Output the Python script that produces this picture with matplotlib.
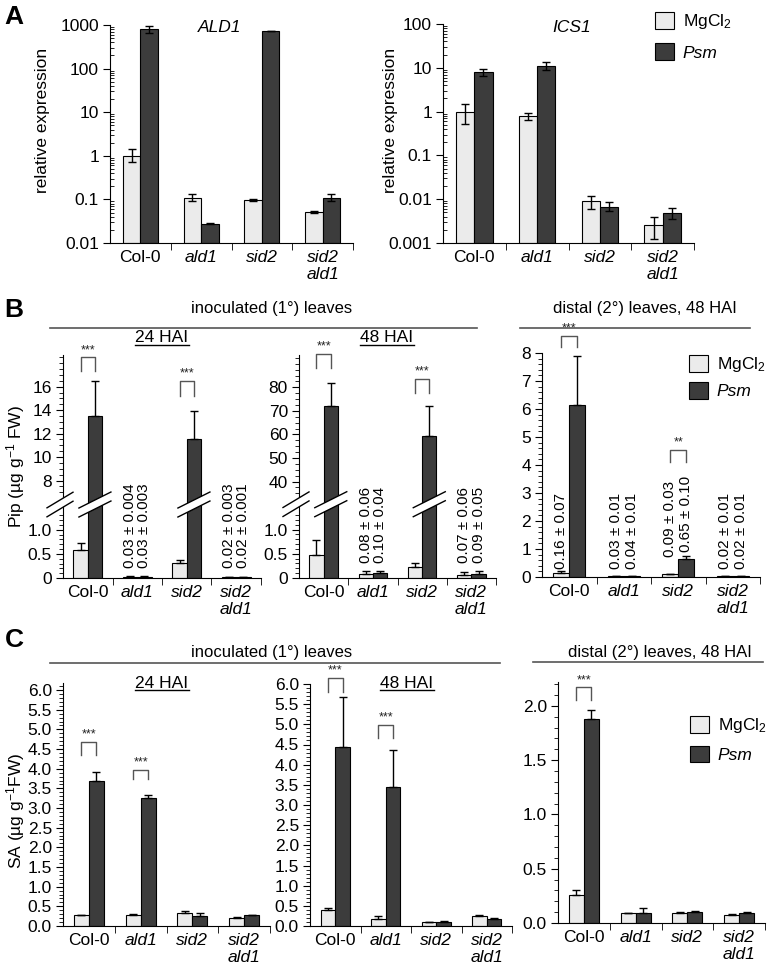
import numpy as np
import matplotlib
matplotlib.use('Agg')
import matplotlib.pyplot as plt
from matplotlib.patches import Patch, Polygon
from matplotlib.lines import Line2D
from matplotlib.ticker import FixedLocator, FixedFormatter, LogLocator, NullFormatter, FuncFormatter
from matplotlib.transforms import IdentityTransform

plt.rcParams['font.family'] = ['Liberation Sans', 'DejaVu Sans']
plt.rcParams['mathtext.fontset'] = 'custom'
plt.rcParams['mathtext.rm'] = 'Liberation Sans'
plt.rcParams['mathtext.it'] = 'Liberation Sans:italic'

W, H = 770, 964
LIGHT = '#ebebeb'
DARK = '#3c3c3c'
BW = 0.29  # bar width
FS = 12.5  # tick / label size

# ---- data ----
groups = ['Col-0', 'ald1', 'sid2', 'sid2\nald1']

# A: relative expression (mean, lower, upper)
ald1_mg = [1.0, 0.11, 0.095, 0.052]
ald1_mg_lo = [0.72, 0.09, 0.090, 0.050]
ald1_mg_hi = [1.40, 0.135, 0.100, 0.054]
ald1_psm = [800, 0.028, 720, 0.11]
ald1_psm_lo = [660, 0.027, 715, 0.09]
ald1_psm_hi = [960, 0.029, 725, 0.135]

ics1_mg = [1.0, 0.80, 0.0089, 0.0026]
ics1_mg_lo = [0.52, 0.65, 0.0060, 0.00125]
ics1_mg_hi = [1.48, 0.95, 0.0118, 0.0040]
ics1_psm = [8.0, 11.2, 0.0067, 0.0048]
ics1_psm_lo = [6.5, 9.0, 0.0053, 0.0035]
ics1_psm_hi = [9.5, 13.8, 0.0085, 0.0063]

# B: Pip (mean, SD)
pip24_mg = [0.58, 0.03, 0.32, 0.02]
pip24_mg_err = [0.15, 0.004, 0.06, 0.003]
pip24_psm = [13.5, 0.03, 11.5, 0.02]
pip24_psm_err = [3.0, 0.003, 2.4, 0.001]

pip48_mg = [0.47, 0.08, 0.22, 0.07]
pip48_mg_err = [0.32, 0.06, 0.08, 0.06]
pip48_psm = [72.0, 0.10, 59.5, 0.09]
pip48_psm_err = [10.0, 0.04, 12.5, 0.05]

pipd_mg = [0.16, 0.03, 0.09, 0.02]
pipd_mg_err = [0.07, 0.01, 0.03, 0.01]
pipd_psm = [6.15, 0.04, 0.65, 0.02]
pipd_psm_err = [1.75, 0.01, 0.10, 0.01]

# C: SA (mean, SD)
sa24_mg = [0.27, 0.28, 0.32, 0.21]
sa24_mg_err = [0.01, 0.02, 0.06, 0.02]
sa24_psm = [3.70, 3.25, 0.26, 0.27]
sa24_psm_err = [0.22, 0.08, 0.07, 0.02]

sa48_mg = [0.40, 0.18, 0.09, 0.26]
sa48_mg_err = [0.05, 0.06, 0.01, 0.01]
sa48_psm = [4.45, 3.45, 0.10, 0.18]
sa48_psm_err = [1.23, 0.92, 0.02, 0.02]

sad_mg = [0.26, 0.09, 0.095, 0.075]
sad_mg_err = [0.04, 0.005, 0.008, 0.005]
sad_psm = [1.88, 0.09, 0.10, 0.095]
sad_psm_err = [0.08, 0.05, 0.015, 0.005]

x = np.arange(len(groups))

fig = plt.figure(figsize=(W / 100, H / 100), dpi=100)


def add_ax(l, t, r, b):
    return fig.add_axes([l / W, 1 - b / H, (r - l) / W, (b - t) / H])


def style_ax(ax):
    for s in ('top', 'right'):
        ax.spines[s].set_visible(False)
    ax.set_xlim(-0.5, 3.5)
    ax.set_xticks(x)
    ax.set_xticklabels(groups, fontsize=FS)
    for i, lab in enumerate(ax.get_xticklabels()):
        if i > 0:
            lab.set_fontstyle('italic')
    ax.set_xticks(x + 0.5, minor=True)
    ax.tick_params(axis='x', which='major', length=0, pad=5)
    ax.tick_params(axis='x', which='minor', length=5, direction='out')
    ax.tick_params(axis='y', which='major', labelsize=FS, length=5, direction='out', pad=3)
    ax.tick_params(axis='y', which='minor', length=3, direction='out')


def draw_bars(ax, mg, psm, mg_err, psm_err, bottom=0):
    ax.bar(x - BW / 2, np.array(mg) - bottom, BW, bottom=bottom, color=LIGHT,
           edgecolor='black', linewidth=0.8, zorder=2)
    ax.bar(x + BW / 2, np.array(psm) - bottom, BW, bottom=bottom, color=DARK,
           edgecolor='black', linewidth=0.8, zorder=2)
    ax.errorbar(x - BW / 2, mg, yerr=mg_err, fmt='none', ecolor='black',
                elinewidth=1, capsize=3, capthick=1, zorder=3)
    ax.errorbar(x + BW / 2, psm, yerr=psm_err, fmt='none', ecolor='black',
                elinewidth=1, capsize=3, capthick=1, zorder=3)


def up_only(err):
    return [np.zeros(len(err)), np.array(err)]


def lo_hi(val, lo, hi):
    val = np.array(val)
    return [val - np.array(lo), np.array(hi) - val]


def bracket(ax, i, y0, y1, stars):
    xl, xr = x[i] - BW / 2, x[i] + BW / 2
    ax.plot([xl, xl, xr, xr], [y0, y1, y1, y0], color='#555555', lw=1,
            clip_on=False, zorder=4)
    ax.annotate(stars, ((xl + xr) / 2, y1), xytext=(0, 1), textcoords='offset points',
                ha='center', va='bottom', fontsize=9, color='#222222',
                annotation_clip=False)


def vlabel(ax, i, side, y, s):
    ax.text(x[i] + side * BW / 2, y, s, rotation=90, ha='center', va='bottom',
            fontsize=11, clip_on=False)


def broken_scale(a, b, s1, g, s2):
    def fwd(y):
        y = np.asarray(y, dtype=float)
        return np.where(y <= a, y * s1,
                        np.where(y <= b, a * s1 + (y - a) * g / (b - a),
                                 a * s1 + g + (y - b) * s2))

    def inv(p):
        p = np.asarray(p, dtype=float)
        p1 = a * s1
        p2 = p1 + g
        return np.where(p <= p1, p / s1,
                        np.where(p <= p2, a + (p - p1) * (b - a) / g,
                                 b + (p - p2) / s2))
    return fwd, inv


def break_mark(ax, xd, yd, hw, k=0.6, sep=4.5, dx=0):
    px, py = ax.transData.transform((xd, yd))
    px += dx
    lo = [(px - hw, py - sep - hw * k), (px + hw, py - sep + hw * k)]
    hi = [(px + hw, py + sep + hw * k), (px - hw, py + sep - hw * k)]
    fig.add_artist(Polygon(lo + hi, closed=True, facecolor='white', edgecolor='none',
                           transform=IdentityTransform(), zorder=10))
    for seg in (lo, hi):
        fig.add_artist(Line2D([seg[0][0], seg[1][0]], [seg[0][1], seg[1][1]],
                              color='black', lw=1, transform=IdentityTransform(), zorder=11))


def ftext(px, py, s, **kw):
    return fig.text(px / W, 1 - py / H, s, **kw)


def hline(x0, x1, py, color='#555555', lw=1.2):
    fig.add_artist(Line2D([x0 / W, x1 / W], [1 - py / H] * 2, color=color, lw=lw))


def legend(px, py, spacing=0.6):
    handles = [Patch(facecolor=LIGHT, edgecolor='black', linewidth=0.8),
               Patch(facecolor=DARK, edgecolor='black', linewidth=0.8)]
    leg = fig.legend(handles, ['MgCl$_2$', 'Psm'], loc='upper left',
                     bbox_to_anchor=(px / W, 1 - py / H), frameon=False, fontsize=FS,
                     handlelength=1.1, handleheight=1.1, handletextpad=0.5,
                     labelspacing=spacing, borderpad=0, borderaxespad=0)
    leg.get_texts()[1].set_fontstyle('italic')


log_fmt = FuncFormatter(lambda v, _: f'{v:g}')

# ---- panel A ----
for (l, t, r, b), lims, mg, mlo, mhi, ps, plo, phi, title, tx in [
        ((110, 25, 353, 243), (0.01, 1000), ald1_mg, ald1_mg_lo, ald1_mg_hi,
         ald1_psm, ald1_psm_lo, ald1_psm_hi, 'ALD1', 220),
        ((443, 24, 694, 243), (0.001, 100), ics1_mg, ics1_mg_lo, ics1_mg_hi,
         ics1_psm, ics1_psm_lo, ics1_psm_hi, 'ICS1', 572)]:
    ax = add_ax(l, t, r, b)
    ax.set_yscale('log')
    ax.set_ylim(*lims)
    style_ax(ax)
    ax.yaxis.set_major_formatter(log_fmt)
    ax.yaxis.set_minor_locator(LogLocator(base=10, subs=np.arange(2, 10)))
    ax.yaxis.set_minor_formatter(NullFormatter())
    ax.tick_params(axis='y', which='minor', length=3, direction='in')
    draw_bars(ax, mg, ps, lo_hi(mg, mlo, mhi), lo_hi(ps, plo, phi), bottom=lims[0])
    ftext(tx, 27, title, fontsize=FS, style='italic', ha='center', va='center')

ftext(43, 120, 'relative expression', rotation=90, ha='center', va='center', fontsize=FS)
ftext(391, 120, 'relative expression', rotation=90, ha='center', va='center', fontsize=FS)
legend(655, 12, spacing=0.7)

# ---- panel B ----
ftext(272, 308, 'inoculated (1°) leaves', ha='center', va='center', fontsize=12)
hline(50, 477, 328)
ftext(645, 308, 'distal (2°) leaves, 48 HAI', ha='center', va='center', fontsize=12)
hline(520, 750, 328)
ftext(16, 467, 'Pip (µg g$^{-1}$ FW)', rotation=90, ha='center', va='center', fontsize=FS)

b_specs = [
    dict(box=(63, 355, 261, 578), brk=(1.37, 6.6, 48, 15, 11.7), top=18.7,
         upper=[8, 10, 12, 14, 16], minor_up=np.arange(7, 18.6, 0.5),
         mg=pip24_mg, mge=pip24_mg_err, ps=pip24_psm, pse=pip24_psm_err,
         brackets=[(0, 17.3, 18.5, '***'), (2, 15.2, 16.5, '***')],
         labels=[(1, -1, 0.2, '0.03 ± 0.004'), (1, 1, 0.2, '0.03 ± 0.003'),
                 (3, -1, 0.2, '0.02 ± 0.003'), (3, 1, 0.2, '0.02 ± 0.001')],
         breaks=[0, 2]),
    dict(box=(299, 355, 496, 578), brk=(1.37, 33.6, 48, 15, 2.34), top=93.7,
         upper=[40, 50, 60, 70, 80], minor_up=np.arange(35, 93.7, 2.5),
         mg=pip48_mg, mge=pip48_mg_err, ps=pip48_psm, pse=pip48_psm_err,
         brackets=[(0, 88.0, 94.0, '***'), (2, 77.5, 83.5, '***')],
         labels=[(1, -1, 0.3, '0.08 ± 0.06'), (1, 1, 0.3, '0.10 ± 0.04'),
                 (3, -1, 0.3, '0.07 ± 0.06'), (3, 1, 0.3, '0.09 ± 0.05')],
         breaks=[0, 2]),
]

for spec in b_specs:
    ax = add_ax(*spec['box'])
    fwd, inv = broken_scale(*spec['brk'])
    ax.set_yscale('function', functions=(fwd, inv))
    ax.set_ylim(0, spec['top'])
    style_ax(ax)
    ticks = [0, 0.5, 1.0] + spec['upper']
    ax.yaxis.set_major_locator(FixedLocator(ticks))
    ax.yaxis.set_major_formatter(FixedFormatter(['0', '0.5', '1.0'] + [str(v) for v in spec['upper']]))
    ax.yaxis.set_minor_locator(FixedLocator(list(np.arange(0, 1.35, 0.1)) + list(spec['minor_up'])))
    ax.yaxis.set_minor_formatter(NullFormatter())
    draw_bars(ax, spec['mg'], spec['ps'], up_only(spec['mge']), up_only(spec['pse']))
    for i, y0, y1, st in spec['brackets']:
        bracket(ax, i, y0, y1, st)
    for i, side, y, s in spec['labels']:
        vlabel(ax, i, side, y, s)
    a, b = spec['brk'][0], spec['brk'][1]
    ymid = float(inv(fwd(a) + spec['brk'][3] / 2))
    break_mark(ax, -0.5, ymid, 13, dx=-3)
    for i in spec['breaks']:
        break_mark(ax, x[i] + BW / 2, ymid, 16, k=0.5)

ax = add_ax(542, 353, 760, 577)
ax.set_ylim(0, 8)
style_ax(ax)
ax.set_yticks(np.arange(0, 9))
ax.set_yticks(np.arange(0, 8.01, 0.2), minor=True)
draw_bars(ax, pipd_mg, pipd_psm, up_only(pipd_mg_err), up_only(pipd_psm_err))
bracket(ax, 0, 8.2, 8.6, '***')
bracket(ax, 2, 4.1, 4.55, '**')
for i, side, y, s in [(0, -1, 0.3, '0.16 ± 0.07'),
                      (1, -1, 0.3, '0.03 ± 0.01'), (1, 1, 0.3, '0.04 ± 0.01'),
                      (2, -1, 0.7, '0.09 ± 0.03'), (2, 1, 0.9, '0.65 ± 0.10'),
                      (3, -1, 0.3, '0.02 ± 0.01'), (3, 1, 0.3, '0.02 ± 0.01')]:
    vlabel(ax, i, side, y, s)
legend(689, 355, spacing=0.45)

# ---- panel C ----
ftext(272, 652, 'inoculated (1°) leaves', ha='center', va='center', fontsize=12)
hline(50, 500, 663)
ftext(660, 652, 'distal (2°) leaves, 48 HAI', ha='center', va='center', fontsize=12)
hline(533, 763, 662)
ftext(16, 811, 'SA (µg g$^{-1}$FW)', rotation=90, ha='center', va='center', fontsize=FS)

c_specs = [
    ((63, 683, 270, 926), 6.18, 6.0, sa24_mg, sa24_mg_err, sa24_psm, sa24_psm_err,
     [(0, 4.35, 4.68, '***'), (1, 3.75, 3.97, '***')]),
    ((310, 684, 512, 926), 6.0, 6.0, sa48_mg, sa48_mg_err, sa48_psm, sa48_psm_err,
     [(0, 5.8, 6.15, '***'), (1, 4.66, 4.98, '***')]),
]
for box, top, tmax, mg, mge, ps, pse, brs in c_specs:
    ax = add_ax(*box)
    ax.set_ylim(0, top)
    style_ax(ax)
    ax.set_yticks(np.arange(0, tmax + 0.01, 0.5))
    ax.set_yticklabels([f'{v:.1f}' for v in np.arange(0, tmax + 0.01, 0.5)])
    ax.set_yticks(np.arange(0, top + 0.001, 0.1), minor=True)
    draw_bars(ax, mg, ps, up_only(mge), up_only(pse))
    for i, y0, y1, st in brs:
        bracket(ax, i, y0, y1, st)

ax = add_ax(558, 682, 765, 923)
ax.set_ylim(0, 2.22)
style_ax(ax)
ax.set_yticks(np.arange(0, 2.01, 0.5))
ax.set_yticklabels([f'{v:.1f}' for v in np.arange(0, 2.01, 0.5)])
ax.set_yticks(np.arange(0, 2.22, 0.1), minor=True)
draw_bars(ax, sad_mg, sad_psm, up_only(sad_mg_err), up_only(sad_psm_err))
bracket(ax, 0, 2.05, 2.17, '***')
legend(690, 716, spacing=0.6)

# ---- sub titles with underline ----
hai = [(162, 338, '24 HAI'), (387, 338, '48 HAI'), (162, 683, '24 HAI'), (407, 683, '48 HAI')]
hai_texts = [ftext(px, py, s, ha='center', va='center', fontsize=FS) for px, py, s in hai]

# panel letters
for px, py, s in [(14, 17, 'A'), (14, 310, 'B'), (14, 640, 'C')]:
    ftext(px, py, s, ha='center', va='center', fontsize=19, fontweight='bold')

fig.canvas.draw()
renderer = fig.canvas.get_renderer()
for t in hai_texts:
    bb = t.get_window_extent(renderer)
    fig.add_artist(Line2D([bb.x0, bb.x1], [bb.y0 + 1, bb.y0 + 1], color='black', lw=1,
                          transform=IdentityTransform()))

fig.savefig('out.png', dpi=100)
